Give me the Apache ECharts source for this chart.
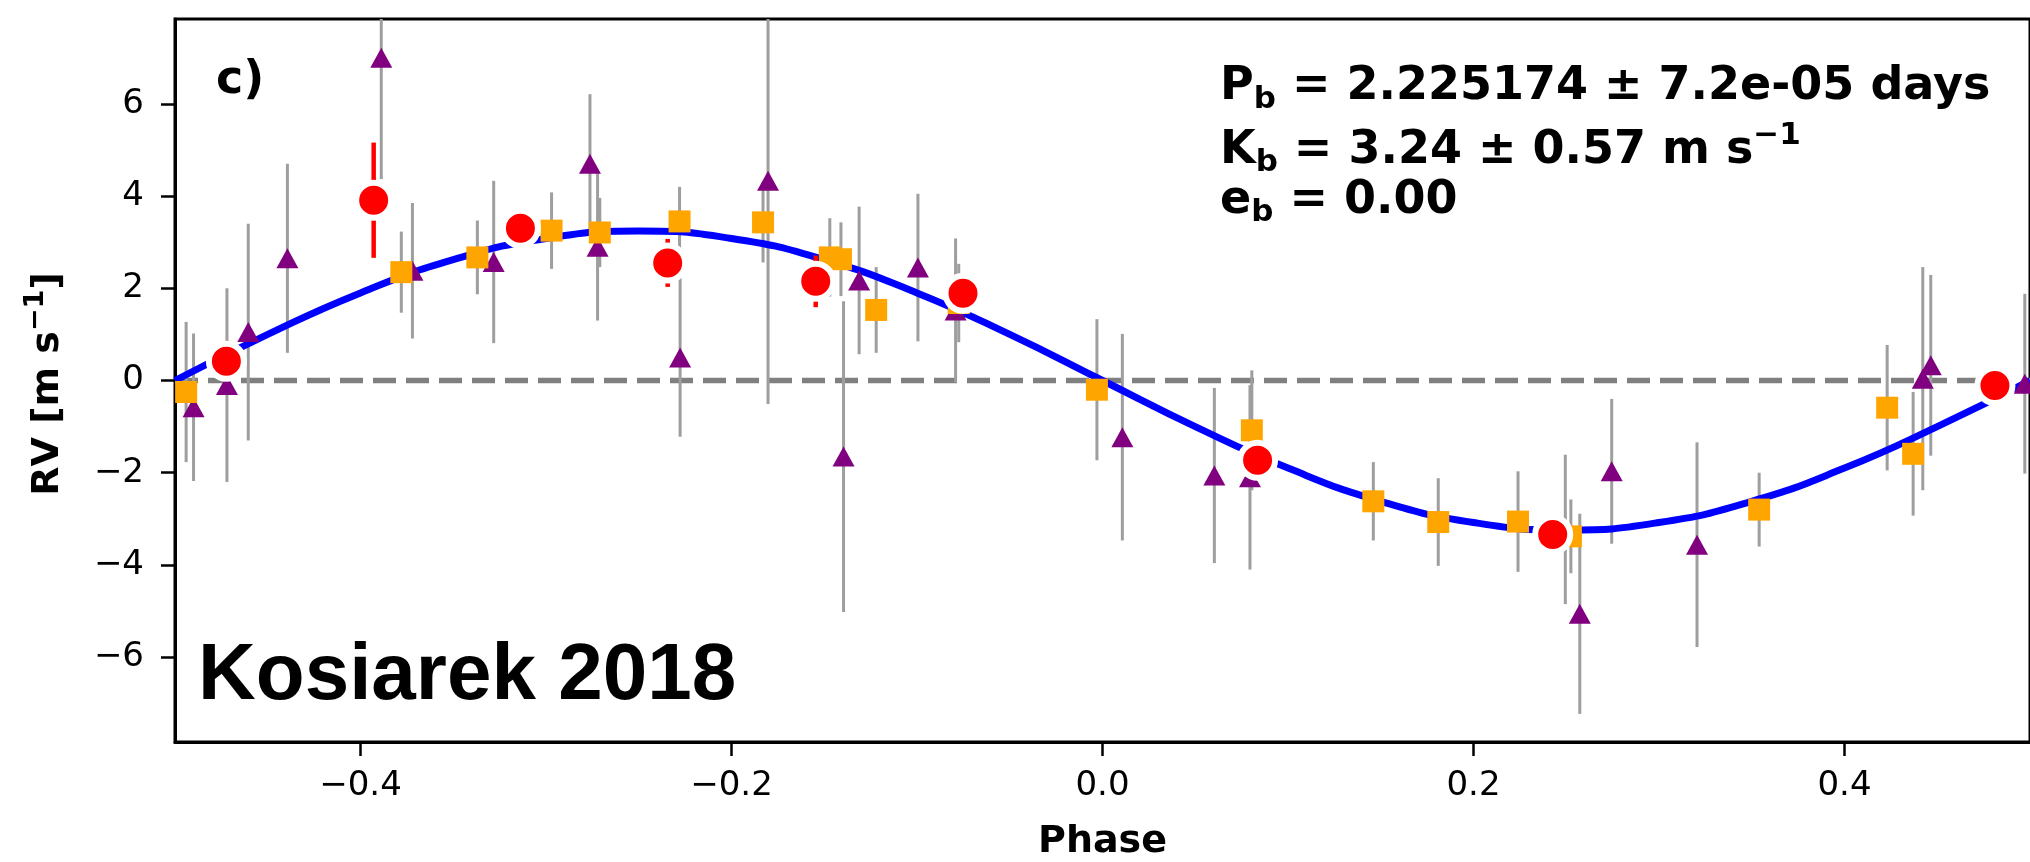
<!DOCTYPE html>
<html>
<head>
<meta charset="utf-8">
<script src="https://cdn.jsdelivr.net/npm/echarts@6/dist/echarts.min.js"></script>
<style>
  html, body { margin: 0; padding: 0; background: #ffffff; }
  #chart { width: 2030px; height: 862px; }
</style>
</head>
<body>
<div id="chart"></div>
<script>
// ---- axis ticks ----
const xTicks = [-0.4, -0.2, 0.0, 0.2, 0.4];
const xTickLabels = ['\u22120.4', '\u22120.2', '0.0', '0.2', '0.4'];
const yTicks = [-6, -4, -2, 0, 2, 4, 6];
const yTickLabels = ['\u22126', '\u22124', '\u22122', '0', '2', '4', '6'];
const phaseRange = [-0.5, 0.5];
const rvRange = [-7.84, 7.84];

// ---- instrument 1 (orange squares) ----
const squarePhase = [-0.494, -0.378, -0.337, -0.297, -0.271, -0.228, -0.183, -0.147, -0.141, -0.122,
                     -0.0775, -0.003, 0.0805, 0.146, 0.181, 0.224, 0.2525, 0.354, 0.423, 0.437];
const squareRV    = [-0.25, 2.35, 2.67, 3.25, 3.21, 3.45, 3.43, 2.67, 2.63, 1.53,
                     1.68, -0.20, -1.08, -2.62, -3.07, -3.06, -3.38, -2.80, -0.59, -1.59];
const squareErr   = [1.52, 0.88, 0.80, 0.83, 0.75, 0.75, 0.87, 0.85, 0.80, 0.93,
                     0.85, 1.53, 1.30, 0.85, 0.95, 1.09, 0.80, 0.80, 1.36, 1.34];

// ---- instrument 2 (purple triangles) ----
const triPhase = [-0.490, -0.472, -0.4605, -0.4394, -0.3888, -0.372, -0.3282, -0.2763, -0.2722, -0.2277,
                  -0.1803, -0.1396, -0.1312, -0.0995, -0.0792, 0.0107, 0.0603, 0.0795, 0.2495, 0.2573,
                  0.2745, 0.3205, 0.4422, 0.4465, 0.4972];
const triRV    = [-0.58, -0.10, 1.05, 2.65, 7.00, 2.38, 2.57, 4.70, 2.90, 0.50,
                  4.33, -1.65, 2.17, 2.45, 1.52, -1.23, -2.06, -2.10, -3.23, -5.06,
                  -1.97, -3.56, 0.04, 0.33, -0.07];
const triErr   = [1.60, 2.10, 2.35, 2.05, 2.63, 1.47, 1.76, 1.51, 1.60, 1.72,
                  4.84, 3.37, 1.60, 1.60, 1.56, 2.24, 1.90, 2.00, 1.62, 2.17,
                  1.57, 2.22, 2.42, 1.96, 1.95];

// ---- binned velocities (red circles) ----
const binPhase = [-0.4723, -0.3929, -0.3138, -0.2344, -0.1546, -0.0752, 0.0836, 0.2427, 0.4811];
const binRV    = [0.42, 3.91, 3.30, 2.55, 2.15, 1.89, -1.73, -3.34, -0.11];
const binErr   = [0.35, 1.25, 0.38, 0.52, 0.56, 0.38, 0.38, 0.35, 0.35];

// ---- Keplerian model curve ----
const modelPhase = [-0.50, -0.45, -0.40, -0.35, -0.30, -0.25, -0.20, -0.15, -0.10, -0.05, 0.00,
                     0.05, 0.10, 0.15, 0.20, 0.25, 0.30, 0.35, 0.40, 0.45, 0.50];
const modelRV    = [0.00, 1.00, 1.90, 2.62, 3.08, 3.24, 3.08, 2.62, 1.90, 1.00, 0.00,
                    -1.00, -1.90, -2.62, -3.08, -3.24, -3.08, -2.62, -1.90, -1.00, 0.00];

// ---- plot layout ----
const G = { left: 175, top: 19, width: 1855, height: 723 };
const FONT = '"DejaVu Sans", sans-serif';

const zip3 = (a, b, c) => a.map((v, i) => [v, b[i], c[i]]);
const zip2 = (a, b) => a.map((v, i) => [v, b[i]]);
const tickText = (v, ticks, labels) => {
  const i = ticks.findIndex(t => Math.abs(t - v) < 1e-9);
  return i < 0 ? '' : labels[i];
};

function errorBars(name, phases, rvs, errs, color, width, z) {
  return {
    name, type: 'custom', z, silent: true,
    data: zip3(phases, rvs, errs),
    encode: { x: 0, y: 1 },
    renderItem: (params, api) => {
      const p = api.value(0), v = api.value(1), e = api.value(2);
      const lo = Math.max(v - e, rvRange[0]);
      const hi = Math.min(v + e, rvRange[1]);
      const a = api.coord([p, lo]);
      const b = api.coord([p, hi]);
      return {
        type: 'line',
        shape: { x1: a[0], y1: a[1], x2: b[0], y2: b[1] },
        style: { stroke: color, lineWidth: width }
      };
    }
  };
}

// ---- text helpers (sub/superscripts) ----
const mctx = document.createElement('canvas').getContext('2d');
function textWidth(t, font) { mctx.font = font; return mctx.measureText(t).width; }
const MID = 0.346; // canvas 'middle' sits this many em above the baseline

function runOfText(parts, sizes, shifts) {
  // parts: [[text, kind]]; children laid out along x with the baseline at y = 0
  let x = 0;
  const out = [];
  parts.forEach(([t, kind]) => {
    const fs = sizes[kind];
    const font = 'bold ' + fs + 'px ' + FONT;
    out.push({
      type: 'text', x: x, y: shifts[kind] - MID * fs, silent: true,
      style: { text: t, font: font, fill: '#000', align: 'left', verticalAlign: 'middle' }
    });
    x += textWidth(t, font);
  });
  return { children: out, width: x };
}

const infoSizes = { main: 46, sub: 31, sup: 31 };
const infoShifts = { main: 0, sub: 7, sup: -20 };
const infoLines = [
  { base: 103.3, parts: [['P', 'main'], ['b', 'sub'], [' = 2.225174 \u00b1 7.2e-05 days', 'main']] },
  { base: 166.7, parts: [['K', 'main'], ['b', 'sub'], [' = 3.24 \u00b1 0.57 m s', 'main'], ['\u22121', 'sup']] },
  { base: 216.7, parts: [['e', 'main'], ['b', 'sub'], [' = 0.00', 'main']] }
];
const graphics = infoLines.map(l => ({
  type: 'group', x: 1220, y: l.base, z: 100,
  children: runOfText(l.parts, infoSizes, infoShifts).children
}));

// rotated y-axis title
const yTitle = runOfText([['RV [m s', 'main'], ['\u22121', 'sup'], [']', 'main']],
                         { main: 38, sup: 27 }, { main: 0, sup: -16.7 });
graphics.push({
  type: 'group', x: 61.7, y: 384 + yTitle.width / 2, rotation: Math.PI / 2, z: 100,
  children: yTitle.children
});

// x-axis title
graphics.push({
  type: 'text', x: G.left + G.width / 2, y: 855 - MID * 38, z: 100, silent: true,
  style: { text: 'Phase', font: 'bold 38px ' + FONT, fill: '#000', align: 'center', verticalAlign: 'middle' }
});

// panel tag
graphics.push({
  type: 'text', x: 216, y: 96.7 - MID * 46, z: 100, silent: true,
  style: { text: 'c)', font: 'bold 46px ' + FONT, fill: '#000', align: 'left', verticalAlign: 'middle' }
});

// dataset name
graphics.push({
  type: 'text', x: 198, y: 705 - 0.3467 * 80, z: 100, silent: true,
  style: { text: 'Kosiarek 2018', font: 'bold 80px "Liberation Sans", Arial, sans-serif', fill: '#000',
           align: 'left', verticalAlign: 'middle' }
});

const chart = echarts.init(document.getElementById('chart'), null, { renderer: 'canvas' });

chart.setOption({
  animation: false,
  backgroundColor: '#ffffff',
  textStyle: { fontFamily: FONT },
  grid: {
    left: G.left, top: G.top, width: G.width, height: G.height,
    show: true, borderColor: '#000', borderWidth: 3, backgroundColor: 'transparent',
    containLabel: false
  },
  xAxis: {
    type: 'value', min: phaseRange[0], max: phaseRange[1],
    splitLine: { show: false },
    axisLine: { show: true, onZero: false, lineStyle: { color: '#000', width: 3 } },
    axisTick: { show: true, inside: false, length: 14, customValues: xTicks,
                lineStyle: { color: '#000', width: 2.5 } },
    axisLabel: { show: true, customValues: xTicks, margin: 27, fontSize: 34, color: '#000',
                 fontFamily: FONT, formatter: v => tickText(v, xTicks, xTickLabels) }
  },
  yAxis: {
    type: 'value', min: rvRange[0], max: rvRange[1],
    splitLine: { show: false },
    axisLine: { show: true, onZero: false, lineStyle: { color: '#000', width: 3 } },
    axisTick: { show: true, inside: false, length: 14, customValues: yTicks,
                lineStyle: { color: '#000', width: 2.5 } },
    axisLabel: { show: true, customValues: yTicks, margin: 31, fontSize: 34, color: '#000',
                 fontFamily: FONT, formatter: v => tickText(v, yTicks, yTickLabels) }
  },
  graphic: graphics,
  series: [
    {
      name: 'zero', type: 'line', z: 1, silent: true, showSymbol: false,
      data: [[phaseRange[0], 0], [phaseRange[1], 0]],
      lineStyle: { color: '#808080', width: 5.5, type: [23, 10] }
    },
    errorBars('triangle errors', triPhase, triRV, triErr, '#9e9e9e', 3, 2),
    errorBars('square errors', squarePhase, squareRV, squareErr, '#9e9e9e', 3, 2),
    {
      name: 'model', type: 'line', z: 3, silent: true, showSymbol: false, smooth: true,
      data: zip2(modelPhase, modelRV),
      lineStyle: { color: '#0000ff', width: 7 }
    },
    {
      name: 'triangles', type: 'scatter', z: 4, silent: true,
      symbol: 'triangle', symbolSize: [22, 20],
      data: zip2(triPhase, triRV),
      itemStyle: { color: '#800080', opacity: 1 }
    },
    {
      name: 'squares', type: 'scatter', z: 5, silent: true,
      symbol: 'rect', symbolSize: 22,
      data: zip2(squarePhase, squareRV),
      itemStyle: { color: '#ffa500', opacity: 1 }
    },
    errorBars('binned errors', binPhase, binRV, binErr, '#ff0000', 4.5, 6),
    {
      name: 'binned', type: 'scatter', z: 7, silent: true,
      symbol: 'circle', symbolSize: 35,
      data: zip2(binPhase, binRV),
      itemStyle: { color: '#ff0000', borderColor: '#ffffff', borderWidth: 6, opacity: 1 }
    }
  ]
});
</script>
</body>
</html>
